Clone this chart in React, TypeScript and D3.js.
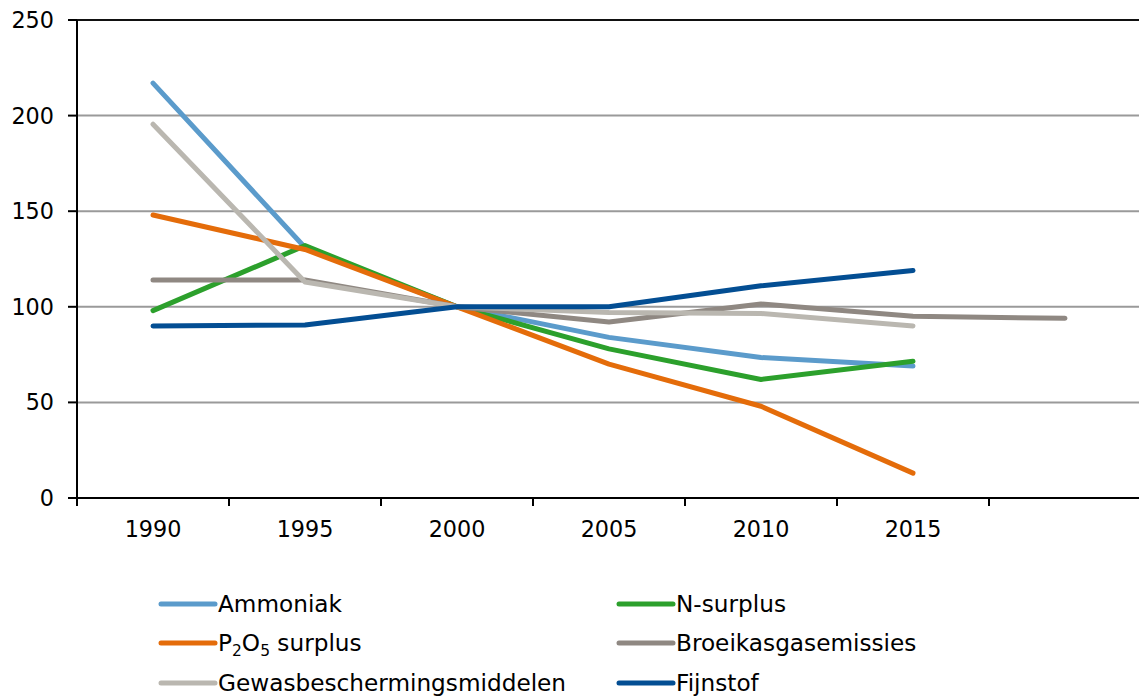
import React from 'react'
import * as d3 from 'd3'

const years = ['1990', '1995', '2000', '2005', '2010', '2015', '2020']
const tickLabels = ['1990', '1995', '2000', '2005', '2010', '2015', '']
const yTicks = [0, 50, 100, 150, 200, 250]

// index, 2000 = 100
const ammoniak = [217, 131, 100, 84, 73.5, 69, null]
const nSurplus = [98, 132, 100, 78, 62, 71.5, null]
const p2o5 = [148, 130, 100, 70, 48, 13, null]
const broeikas = [114, 114, 100, 92, 101.5, 95, 94]
const gewas = [195.5, 113, 100, 97, 96.5, 90, null]
const fijnstof = [90, 90.5, 100, 100, 111, 119, null]

const series = [
  { key: 'amm', name: 'Ammoniak', values: ammoniak, color: '#5b9bcb' },
  { key: 'n', name: 'N-surplus', values: nSurplus, color: '#2ca02c' },
  { key: 'p', name: 'P2O5 surplus', values: p2o5, color: '#e46c0a' },
  { key: 'b', name: 'Broeikasgasemissies', values: broeikas, color: '#8f8882' },
  { key: 'g', name: 'Gewasbeschermingsmiddelen', values: gewas, color: '#bab7b0' },
  { key: 'f', name: 'Fijnstof', values: fijnstof, color: '#034e93' },
]

const W = 1139
const H = 698
const left = 77
const right = 1141
const top = 20
const bottom = 498
const font = '"DejaVu Sans", Verdana, sans-serif'

export default function App() {
  const x = d3.scaleBand().domain(years).range([left, right])
  const cx = (y: string) => (x(y) as number) + x.bandwidth() / 2
  const y = d3.scaleLinear().domain([0, 250]).range([bottom, top])

  const line = d3
    .line<number | null>()
    .defined((d) => d != null)
    .x((_, i) => cx(years[i]))
    .y((d) => y(d as number))

  const bounds = years.map((yr) => x(yr) as number).concat([right])

  const legendCols = [161, 619]
  const legendRows = [604, 643, 683]

  return (
    <svg
      width={W}
      height={H}
      style={{ position: 'absolute', left: 0, top: 0, background: '#fff' }}
      fontFamily={font}
    >
      {/* gridlines */}
      {yTicks.slice(1).map((t) => (
        <line
          key={t}
          x1={left}
          x2={right}
          y1={y(t)}
          y2={y(t)}
          stroke={t === 250 ? '#111' : '#9a9a9a'}
          strokeWidth={2}
        />
      ))}

      {/* y axis */}
      <line x1={left} x2={left} y1={top} y2={bottom + 8} stroke="#000" strokeWidth={2} />
      {yTicks.map((t) => (
        <g key={t}>
          <line x1={left - 9} x2={left} y1={y(t)} y2={y(t)} stroke="#000" strokeWidth={2} />
          <text x={54} y={y(t)} dy="0.36em" textAnchor="end" fontSize={22.3} fill="#000">
            {t}
          </text>
        </g>
      ))}

      {/* x axis */}
      <line x1={left - 9} x2={right} y1={bottom} y2={bottom} stroke="#000" strokeWidth={2} />
      {bounds.map((b, i) => (
        <line key={i} x1={b} x2={b} y1={bottom} y2={bottom + 8} stroke="#000" strokeWidth={2} />
      ))}
      {years.map((yr, i) => (
        <text key={yr} x={cx(yr)} y={537} textAnchor="middle" fontSize={22.3} fill="#000">
          {tickLabels[i]}
        </text>
      ))}

      {/* series */}
      {series.map((s) => (
        <path
          key={s.key}
          d={line(s.values) as string}
          fill="none"
          stroke={s.color}
          strokeWidth={5}
          strokeLinecap="round"
          strokeLinejoin="round"
        />
      ))}

      {/* legend */}
      {series.map((s, i) => {
        const lx = legendCols[i % 2]
        const ly = legendRows[Math.floor(i / 2)]
        return (
          <g key={s.key} transform={`translate(${lx},${ly})`}>
            <line x1={0} x2={54} y1={0} y2={0} stroke={s.color} strokeWidth={5} strokeLinecap="round" />
            <text x={57} y={0} dy="0.36em" fontSize={23.2} fill="#000">
              {s.key === 'p' ? (
                <>
                  P<tspan fontSize={15.5} dy={5}>2</tspan>
                  <tspan dy={-5}>O</tspan>
                  <tspan fontSize={15.5} dy={5}>5</tspan>
                  <tspan dy={-5}> surplus</tspan>
                </>
              ) : (
                s.name
              )}
            </text>
          </g>
        )
      })}
    </svg>
  )
}
